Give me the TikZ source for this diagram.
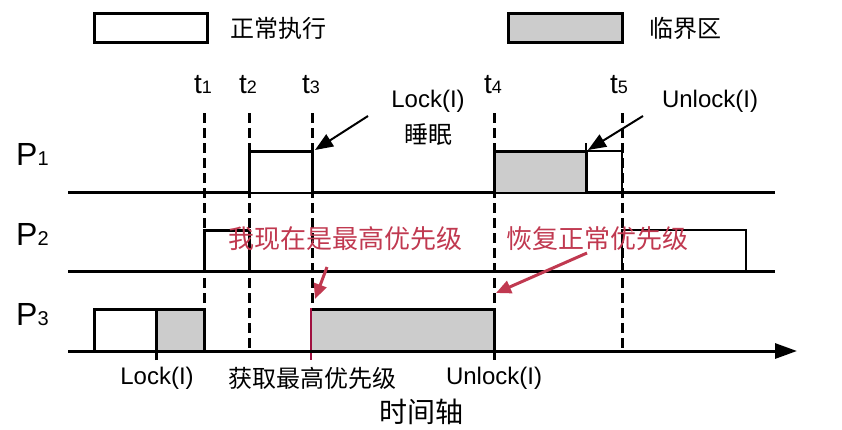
\documentclass[tikz,border=0pt]{standalone}
\usepackage{fontspec}
\setmainfont{Liberation Sans}
\newfontfamily\cjk{Noto Sans CJK SC}
\usetikzlibrary{arrows.meta}
\definecolor{critgray}{RGB}{204,204,204}
\definecolor{hintred}{RGB}{192,57,80}
\definecolor{prioline}{RGB}{160,16,64}
\begin{document}
\begin{tikzpicture}[x=1pt,y=-1pt,
  bold/.style={line width=3pt},
  thinln/.style={line width=2pt},
  tline/.style={line width=3pt,dash pattern=on 10pt off 5pt},
  runbox/.style={draw,line width=3pt,fill=white},
  critbox/.style={draw,line width=3pt,fill=critgray},
  lat/.style={inner sep=0pt,font=\fontsize{24}{26}\selectfont},
  cn/.style={inner sep=0pt,font=\cjk\fontsize{24}{26}\selectfont},
  hint/.style={inner sep=0pt,text=hintred,font=\cjk\fontsize{26}{28}\selectfont},
  tlab/.style={inner sep=0pt,anchor=base west,font=\fontsize{28}{30}\selectfont},
  plab/.style={inner sep=0pt,anchor=base west,font=\fontsize{32}{34}\selectfont},
  callout/.style={line width=2pt,-{Triangle[length=18pt,width=14pt]}},
  redcallout/.style={line width=3pt,draw=hintred,-{Triangle[length=15pt,width=13pt]},fill=hintred}
]
\useasboundingbox (0,0) rectangle (842,429);

% legend
\draw[runbox] (94,13) rectangle (207,42);
\node[cn,anchor=west] (lgrun) at (230,28) {正常执行};
\draw[critbox] (508,13) rectangle (622,42);
\node[cn,anchor=west] (lgcrit) at (649,28) {临界区};

% time marks
\foreach \x in {204,249,312,494,622}{
  \draw[tline] (\x,113) -- (\x,351);
}
\node[tlab] (t1) at (194,93) {t{\fontsize{18}{18}\selectfont 1}};
\node[tlab] (t2) at (239,93) {t{\fontsize{18}{18}\selectfont 2}};
\node[tlab] (t3) at (302,93) {t{\fontsize{18}{18}\selectfont 3}};
\node[tlab] (t4) at (484,93) {t{\fontsize{18}{18}\selectfont 4}};
\node[tlab] (t5) at (610,93) {t{\fontsize{18}{18}\selectfont 5}};

% process labels
\node[plab] (p1) at (16,165) {P{\fontsize{20}{20}\selectfont 1}};
\node[plab] (p2) at (16,245) {P{\fontsize{20}{20}\selectfont 2}};
\node[plab] (p3) at (16,325) {P{\fontsize{20}{20}\selectfont 3}};

% P1 lane
\draw[bold] (68,192) -- (775,192);
\draw[runbox] (249,192) -- (249,151) -- (312,151) -- (312,192);
\draw[thinln] (586,151) -- (622,151) -- (622,192);
\draw[thinln] (586,143) -- (586,151);
\fill[critgray] (494,151) rectangle (586,192);
\draw[bold] (494,192) -- (494,151) -- (586,151) -- (586,192);

% P2 lane
\draw[bold] (68,271) -- (775,271);
\draw[bold] (204,271) -- (204,230) -- (249,230) -- (249,271);
\draw[thinln] (622,271) -- (622,230) -- (746,230) -- (746,271);

% P3 lane / time axis
\draw[bold] (94,351) -- (94,309) -- (156,309);
\fill[critgray] (156,309) rectangle (204,351);
\draw[bold] (156,360) -- (156,309) -- (204,309) -- (204,351);
\fill[critgray] (312,309) rectangle (494,351);
\draw[bold] (312,309) -- (494,309) -- (494,360);
\draw[line width=2.5pt,prioline] (311,308) -- (311,360);
\draw[bold,-{Triangle[length=22pt,width=15pt]}] (68,351) -- (797,351);

% axis labels
\node[lat] (lk3) at (157,378) {Lock(I)};
\node[cn] (gain) at (312,378) {获取最高优先级};
\node[lat] (ul3) at (494,378) {Unlock(I)};
\node[cn,font=\cjk\fontsize{28}{30}\selectfont] (axis) at (421,412) {时间轴};

% callouts on P1
\node[lat] (lk1) at (428,101) {Lock(I)};
\node[cn] (sleep) at (428,135) {睡眠};
\coordinate (lk1src) at (368,116);
\coordinate (lk1dst) at (315,150);
\draw[callout] (lk1src) -- (lk1dst);
\node[lat] (ul1) at (710,101) {Unlock(I)};
\coordinate (ul1src) at (643,116);
\coordinate (ul1dst) at (588,150);
\draw[callout] (ul1src) -- (ul1dst);

% priority notes
\node[hint,anchor=west] (boost) at (228,239) {我现在是最高优先级};
\coordinate (boostsrc) at (327,267);
\coordinate (boostdst) at (315,299);
\draw[redcallout] (boostsrc) -- (boostdst);
\node[hint,anchor=west] (restore) at (506,239) {恢复正常优先级};
\coordinate (restsrc) at (587,253);
\coordinate (restdst) at (496,293);
\draw[redcallout] (restsrc) -- (restdst);
\end{tikzpicture}
\end{document}
